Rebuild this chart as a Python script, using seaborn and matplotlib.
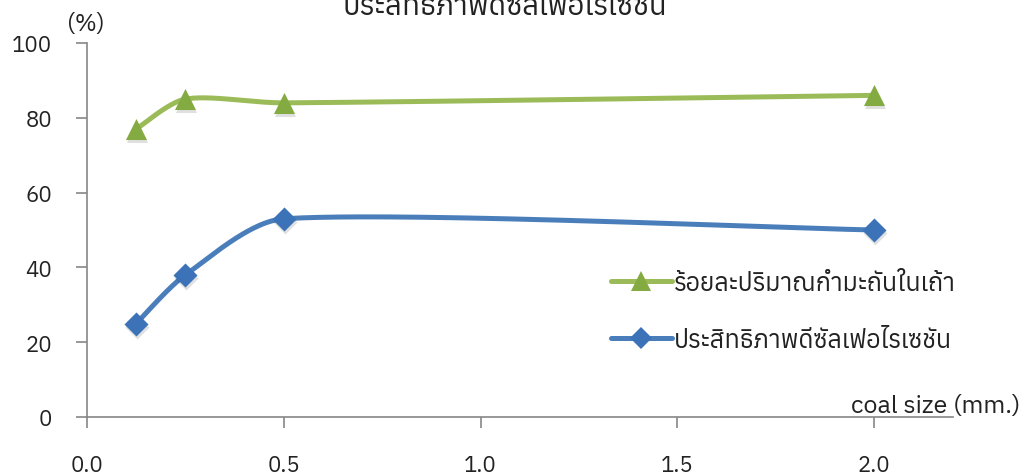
import numpy as np
import pandas as pd
import matplotlib
matplotlib.use("Agg")
import matplotlib.pyplot as plt
import matplotlib.transforms as mtransforms
import seaborn as sns
from matplotlib import font_manager
from matplotlib.ft2font import FT2Font
from matplotlib.lines import Line2D

# ---- data ----
coal_size = [0.125, 0.25, 0.5, 2.0]
sulfur_in_ash = [77, 85, 84, 86]
desulf_efficiency = [25, 38, 53, 50]
series_labels = ["ร้อยละปริมาณกำมะถันในเถ้า", "ประสิทธิภาพดีซัลเฟอไรเซชัน"]
chart_title = "ประสิทธิภาพดีซัลเฟอไรเซชัน"
x_ticks = [0.0, 0.5, 1.0, 1.5, 2.0]
y_ticks = [0, 20, 40, 60, 80, 100]
x_label = "coal size (mm.)"
y_label = "(%)"


def thai_families():
    names = []
    for f in font_manager.fontManager.ttflist:
        try:
            if 0x0E01 in FT2Font(f.fname).get_charmap():
                names.append(f.name)
        except Exception:
            continue
    return sorted(set(names))


sns.set_theme(style="white")
fam = thai_families()[:1] + ["Noto Sans", "DejaVu Sans"]
plt.rcParams["font.family"] = fam


def smooth(xs, ys, n=80):
    """Bezier smoothing through the points; handles follow neighbouring points
    (Catmull-Rom style) but never reach past a third of their own segment."""
    p = np.column_stack([xs, ys]).astype(float)
    ext = np.vstack([p[0], p, p[-1]])
    t = np.linspace(0, 1, n)[:, None]
    out = []
    for i in range(1, len(ext) - 2):
        p0, p1, p2, p3 = ext[i - 1], ext[i], ext[i + 1], ext[i + 2]
        h = p2[0] - p1[0]
        v1 = (p2 - p0) / 6
        v2 = (p3 - p1) / 6
        if v1[0] > h / 3:
            v1 = v1 * (h / 3) / v1[0]
        if v2[0] > h / 3:
            v2 = v2 * (h / 3) / v2[0]
        c1 = p1 + v1
        c2 = p2 - v2
        seg = (1 - t) ** 3 * p1 + 3 * (1 - t) ** 2 * t * c1 + 3 * (1 - t) * t ** 2 * c2 + t ** 3 * p2
        out.append(seg if i == 1 else seg[1:])
    s = np.vstack(out)
    return s[:, 0], s[:, 1]


green = "#9BBB59"
green_mk = "#84AA42"
blue = "#4A7EBB"
blue_mk = "#3C72B8"
axis_gray = "#868686"
text_c = "#222222"

fig = plt.figure(figsize=(10.27, 4.77), dpi=100)
ax = fig.add_axes([87 / 1027, 1 - 418 / 477, (953 - 87) / 1027, (418 - 44) / 477])

shadow = ax.transData + mtransforms.ScaledTranslation(1 / 100, -3 / 100, fig.dpi_scale_trans)
series = [
    (sulfur_in_ash, green, green_mk, "^", 230),
    (desulf_efficiency, blue, blue_mk, "D", 150),
]
for vals, lc, mc, mk, ms in series:
    sx, sy = smooth(coal_size, vals)
    sm = pd.DataFrame({"x": sx, "y": sy})
    sns.lineplot(data=sm, x="x", y="y", ax=ax, color=lc, linewidth=3.6,
                 sort=False, estimator=None, solid_capstyle="round", zorder=2)
    pts = pd.DataFrame({"x": coal_size, "y": vals})
    # soft shadow beneath the markers
    sns.scatterplot(data=pts, x="x", y="y", ax=ax, marker=mk, s=ms, color="#000000",
                    alpha=0.12, linewidth=0, zorder=3, transform=shadow)
    sns.scatterplot(data=pts, x="x", y="y", ax=ax, marker=mk, s=ms, color=mc,
                    linewidth=0, zorder=4)

ax.set_xlim(0, 2.2)
ax.set_ylim(0, 100)
ax.set_xticks(x_ticks)
ax.set_xticklabels([f"{v:.1f}" for v in x_ticks])
ax.set_yticks(y_ticks)
ax.set_yticklabels([str(v) for v in y_ticks])
ax.set_xlabel("")
ax.set_ylabel("")
for s in ["top", "right"]:
    ax.spines[s].set_visible(False)
for s in ["left", "bottom"]:
    ax.spines[s].set_color(axis_gray)
    ax.spines[s].set_linewidth(1.2)
ax.tick_params(axis="both", which="major", direction="out", length=8, width=1.2,
               color=axis_gray, labelsize=16, labelcolor=text_c)
ax.tick_params(axis="x", pad=19, bottom=True)
ax.tick_params(axis="y", pad=17, left=True)
ax.grid(False)

handles = [
    Line2D([], [], color=green, lw=3.6, marker="^", markersize=15,
           markerfacecolor=green_mk, markeredgewidth=0, solid_capstyle="round"),
    Line2D([], [], color=blue, lw=3.6, marker="D", markersize=11,
           markerfacecolor=blue_mk, markeredgewidth=0, solid_capstyle="round"),
]
ax.legend(handles, series_labels, loc="center left", frameon=False,
          bbox_to_anchor=(598 / 1027, 1 - 313 / 477), bbox_transform=fig.transFigure,
          fontsize=18, handlelength=2.45, handletextpad=0.1, labelspacing=1.35,
          borderpad=0, labelcolor=text_c)

fig.text(505 / 1027, 1 - 15 / 477, chart_title, ha="center", va="baseline",
         fontsize=21, color=text_c)
fig.text(86 / 1027, 1 - 25 / 477, y_label, ha="center", va="center",
         fontsize=17, color=text_c)
fig.text(1020 / 1027, 1 - 413 / 477, x_label, ha="right", va="baseline",
         fontsize=18, color=text_c)

fig.savefig("out.png", dpi=100)
